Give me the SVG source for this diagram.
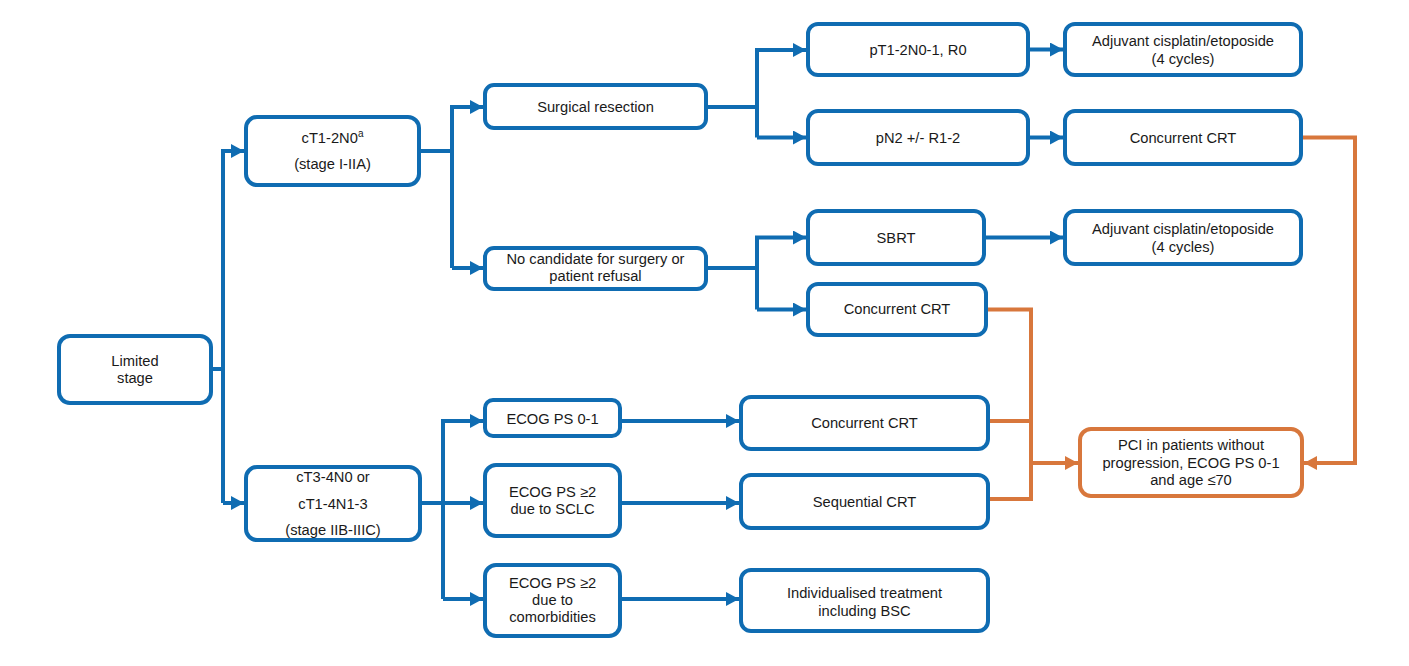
<svg xmlns="http://www.w3.org/2000/svg" width="1409" height="666" viewBox="0 0 1409 666">
<defs>
<marker id="ab" markerUnits="userSpaceOnUse" markerWidth="13" markerHeight="14" refX="13" refY="7" orient="auto"><path d="M0,0 L13,7 L0,14 z" fill="#0f6cb2"/></marker>
<marker id="ao" markerUnits="userSpaceOnUse" markerWidth="13" markerHeight="14" refX="13" refY="7" orient="auto"><path d="M0,0 L13,7 L0,14 z" fill="#d8773c"/></marker>
<style>
.b rect{fill:#fff;stroke:#0f6cb2;stroke-width:4}
.o rect{fill:#fff;stroke:#d8773c;stroke-width:4}
text{font-family:"Liberation Sans",Arial,sans-serif;font-size:14.7px;fill:#1a1a1a;text-anchor:middle}
.cb{fill:none;stroke:#0f6cb2;stroke-width:4}
.co{fill:none;stroke:#d8773c;stroke-width:4}
</style>
</defs>
<rect width="1409" height="666" fill="#fff"/>
<g id="connectors">
<path class="cb" d="M211,369 H223"/>
<path class="cb" d="M223,503 V151 H244" marker-end="url(#ab)"/>
<path class="cb" d="M223,503 H244" marker-end="url(#ab)"/>
<path class="cb" d="M419,151 H452"/>
<path class="cb" d="M452,268 V107 H483" marker-end="url(#ab)"/>
<path class="cb" d="M452,268 H483" marker-end="url(#ab)"/>
<path class="cb" d="M706,107 H757"/>
<path class="cb" d="M757,137.5 V50 H806" marker-end="url(#ab)"/>
<path class="cb" d="M757,137.5 H806" marker-end="url(#ab)"/>
<path class="cb" d="M706,268 H757"/>
<path class="cb" d="M757,309.5 V237.5 H806" marker-end="url(#ab)"/>
<path class="cb" d="M757,309.5 H806" marker-end="url(#ab)"/>
<path class="cb" d="M1028,49.5 H1063" marker-end="url(#ab)"/>
<path class="cb" d="M1028,137.5 H1063" marker-end="url(#ab)"/>
<path class="cb" d="M984,237.5 H1063" marker-end="url(#ab)"/>
<path class="cb" d="M420,503 H483" marker-end="url(#ab)"/>
<path class="cb" d="M443,599 V421 H483" marker-end="url(#ab)"/>
<path class="cb" d="M443,599 H483" marker-end="url(#ab)"/>
<path class="cb" d="M620,421 H739" marker-end="url(#ab)"/>
<path class="cb" d="M620,503 H739" marker-end="url(#ab)"/>
<path class="cb" d="M620,599 H739" marker-end="url(#ab)"/>
<path class="co" d="M986,309.5 H1031 V499 H988"/>
<path class="co" d="M988,421 H1031"/>
<path class="co" d="M1031,463 H1078" marker-end="url(#ao)"/>
<path class="co" d="M1301,137.5 H1355 V463 H1304" marker-end="url(#ao)"/>
</g>
<g id="limited" class="b"><rect x="59" y="336" width="152" height="67" rx="11"/><text x="135" y="366">Limited</text><text x="135" y="383">stage</text></g>
<g id="ct12" class="b"><rect x="246" y="117" width="173" height="68" rx="11"/><text x="332.5" y="143">cT1-2N0<tspan font-size="10" dy="-6">a</tspan></text><text x="332.5" y="169">(stage I-IIA)</text></g>
<g id="ct34" class="b"><rect x="246" y="467" width="174" height="73" rx="11"/><text x="333" y="482">cT3-4N0 or</text><text x="333" y="509">cT1-4N1-3</text><text x="333" y="535">(stage IIB-IIIC)</text></g>
<g id="surg" class="b"><rect x="485" y="85" width="221" height="43" rx="9"/><text x="595.5" y="112">Surgical resection</text></g>
<g id="nocand" class="b"><rect x="485" y="248" width="221" height="41" rx="9"/><text x="595.5" y="264">No candidate for surgery or</text><text x="595.5" y="281">patient refusal</text></g>
<g id="pt12" class="b"><rect x="808" y="24" width="220" height="51" rx="10"/><text x="918" y="55">pT1-2N0-1, R0</text></g>
<g id="pn2" class="b"><rect x="808" y="111" width="220" height="53" rx="10"/><text x="918" y="143">pN2 +/- R1-2</text></g>
<g id="adj1" class="b"><rect x="1065" y="24" width="236" height="51" rx="10"/><text x="1183" y="46">Adjuvant cisplatin/etoposide</text><text x="1183" y="64">(4 cycles)</text></g>
<g id="crt1" class="b"><rect x="1065" y="111" width="236" height="53" rx="10"/><text x="1183" y="143">Concurrent CRT</text></g>
<g id="sbrt" class="b"><rect x="808" y="211" width="176" height="53" rx="10"/><text x="896" y="243">SBRT</text></g>
<g id="adj2" class="b"><rect x="1065" y="211" width="236" height="53" rx="10"/><text x="1183" y="234">Adjuvant cisplatin/etoposide</text><text x="1183" y="252">(4 cycles)</text></g>
<g id="crt2" class="b"><rect x="808" y="284" width="178" height="51" rx="10"/><text x="897" y="314">Concurrent CRT</text></g>
<g id="ecog01" class="b"><rect x="485" y="400" width="135" height="36" rx="8"/><text x="552.5" y="424">ECOG PS 0-1</text></g>
<g id="ecog2" class="b"><rect x="485" y="465" width="135" height="71" rx="11"/><text x="552.5" y="497">ECOG PS ≥2</text><text x="552.5" y="514">due to SCLC</text></g>
<g id="ecog2c" class="b"><rect x="485" y="565" width="135" height="71" rx="11"/><text x="552.5" y="588">ECOG PS ≥2</text><text x="552.5" y="605">due to</text><text x="552.5" y="622">comorbidities</text></g>
<g id="crt3" class="b"><rect x="741" y="397" width="247" height="52" rx="10"/><text x="864.5" y="428">Concurrent CRT</text></g>
<g id="seq" class="b"><rect x="741" y="475" width="247" height="53" rx="10"/><text x="864.5" y="507">Sequential CRT</text></g>
<g id="indiv" class="b"><rect x="741" y="570" width="247" height="61" rx="10"/><text x="864.5" y="598">Individualised treatment</text><text x="864.5" y="616">including BSC</text></g>
<g id="pci" class="o"><rect x="1080" y="429" width="222" height="67" rx="11"/><text x="1191" y="450">PCI in patients without</text><text x="1191" y="468">progression, ECOG PS 0-1</text><text x="1191" y="485">and age ≤70</text></g>
</svg>
